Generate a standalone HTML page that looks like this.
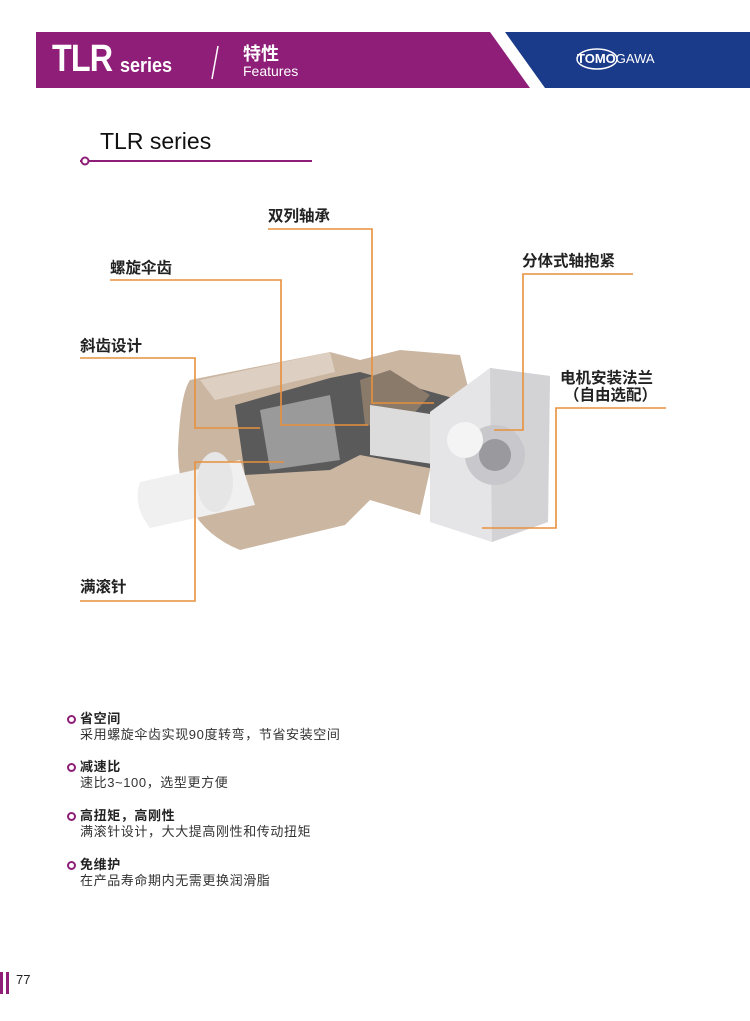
<!DOCTYPE html>
<html><head><meta charset="utf-8"><style>
html,body{margin:0;padding:0;background:#fff;}
body{width:750px;height:1021px;position:relative;overflow:hidden;font-family:"Liberation Sans","Noto Sans CJK SC",sans-serif;}
.t{position:absolute;white-space:nowrap;}
.lbl{position:absolute;font-size:15.5px;font-weight:bold;color:#222;white-space:nowrap;font-family:"Liberation Sans","Noto Sans CJK SC",sans-serif;}
.f{position:absolute;left:80px;font-size:13px;letter-spacing:0.6px;color:#333;line-height:16px;white-space:nowrap;}
.f b{color:#222;}
.dot{position:absolute;left:-13px;top:4px;width:5px;height:5px;border:2px solid #8e1e78;border-radius:50%;}
</style></head><body>
<svg width="750" height="1021" style="position:absolute;left:0;top:0">
<polygon points="36,32 490,32 530,88 36,88" fill="#8e1e78"/>
<polygon points="505,32 750,32 750,88 545,88" fill="#1a3a8a"/>
<line x1="218" y1="46" x2="212" y2="79" stroke="#fff" stroke-width="1.5"/>
<ellipse cx="597" cy="59" rx="20" ry="10" fill="none" stroke="#fff" stroke-width="1.5"/>
<line x1="80" y1="161" x2="312" y2="161" stroke="#8e1e78" stroke-width="2"/>
<circle cx="85" cy="161" r="3.5" fill="#fff" stroke="#8e1e78" stroke-width="2"/>
<!-- gearbox -->
<path d="M190,380 L330,352 L360,360 L400,350 L460,355 L470,395 L430,470 L420,515 L370,500 L345,525 L240,550 Q178,525 178,450 Q180,395 190,380 Z" fill="#cbb6a2"/>
<path d="M200,380 L330,352 L335,372 L215,400 Z" fill="#ddd0c2"/>
<path d="M235,405 L330,378 L360,372 L460,400 L440,470 L360,455 L330,470 L245,475 Z" fill="#5a5a5a"/>
<path d="M260,410 L330,395 L340,460 L270,470 Z" fill="#9a9a9a"/>
<path d="M360,380 L390,370 L430,395 L400,430 L365,425 Z" fill="#8a7a6a"/>
<path d="M370,405 L470,420 L475,470 L370,455 Z" fill="#dcdcdc"/>
<path d="M140,482 L240,460 L255,505 L150,528 Q132,505 140,482 Z" fill="#f0f0f0"/>
<ellipse cx="215" cy="482" rx="18" ry="30" fill="#e6e6e6"/>
<path d="M430,412 L490,368 L550,376 L548,522 L492,542 L430,522 Z" fill="#e5e5e7"/>
<path d="M490,368 L550,376 L548,522 L492,542 Z" fill="#d3d3d6"/>
<circle cx="495" cy="455" r="30" fill="#c8c8cc"/>
<circle cx="495" cy="455" r="16" fill="#9a9a9e"/>
<circle cx="465" cy="440" r="18" fill="#f4f4f4"/>
<g fill="none" stroke="#e8903c" stroke-width="1.6">
<polyline points="268,229 372,229 372,403 434,403"/>
<polyline points="110,280 281,280 281,425 368,425"/>
<polyline points="80,358 195,358 195,428 260,428"/>
<polyline points="80,601 195,601 195,462 284,462"/>
<polyline points="633,274 523,274 523,430 494,430"/>
<polyline points="666,408 556,408 556,528 482,528"/>
</g>
<rect x="0" y="972" width="3" height="22" fill="#8e1e78"/>
<rect x="6" y="972" width="3" height="22" fill="#8e1e78"/>
</svg>
<div class="t" style="left:52px;top:38px;color:#fff;font-weight:bold;font-size:38px;letter-spacing:-1px;transform:scaleX(0.85);transform-origin:left;">TLR</div>
<div class="t" style="left:120px;top:55px;color:#fff;font-weight:bold;font-size:20px;transform:scaleX(0.9);transform-origin:left;">series</div>
<div class="t" style="left:243px;top:40px;color:#fff;font-size:18px;font-weight:bold;">特性</div>
<div class="t" style="left:243px;top:63px;color:#fff;font-size:14px;">Features</div>
<div class="t" style="left:577px;top:51px;color:#fff;font-size:13px;font-weight:bold;">TOMO<span style="font-weight:normal">GAWA</span></div>
<div class="t" style="left:100px;top:128px;font-size:23px;color:#111;">TLR series</div>
<div class="lbl" style="left:268px;top:204px;">双列轴承</div>
<div class="lbl" style="left:110px;top:256px;">螺旋伞齿</div>
<div class="lbl" style="left:80px;top:334px;">斜齿设计</div>
<div class="lbl" style="left:80px;top:575px;">满滚针</div>
<div class="lbl" style="left:522px;top:249px;">分体式轴抱紧</div>
<div class="lbl" style="left:560px;top:366px;">电机安装法兰</div>
<div class="lbl" style="left:564px;top:383px;">（自由选配）</div>
<div class="f" style="top:711px;"><span class="dot"></span><b>省空间</b><br>采用螺旋伞齿实现90度转弯，节省安装空间</div>
<div class="f" style="top:759px;"><span class="dot"></span><b>减速比</b><br>速比3~100，选型更方便</div>
<div class="f" style="top:808px;"><span class="dot"></span><b>高扭矩，高刚性</b><br>满滚针设计，大大提高刚性和传动扭矩</div>
<div class="f" style="top:857px;"><span class="dot"></span><b>免维护</b><br>在产品寿命期内无需更换润滑脂</div>
<div class="t" style="left:16px;top:972px;font-size:13px;color:#222;">77</div>
</body></html>
